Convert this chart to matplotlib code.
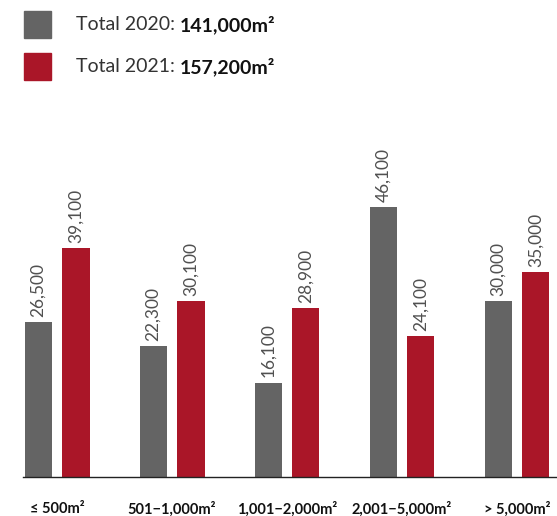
import matplotlib
matplotlib.use("Agg")
import matplotlib.pyplot as plt
import numpy as np
from matplotlib.patches import Rectangle

categories = ["≤ 500m²", "501−1,000m²", "1,001−2,000m²", "2,001−5,000m²", "> 5,000m²"]
values_2020 = [26500, 22300, 16100, 46100, 30000]
values_2021 = [39100, 30100, 28900, 24100, 35000]
legend_labels = ["Total 2020: ", "Total 2021: "]
legend_totals = ["141,000m²", "157,200m²"]

GREY = "#646464"
RED = "#aa1628"
plt.rcParams['font.family'] = ['Lato', 'DejaVu Sans']

W, H = 557, 516
fig = plt.figure(figsize=(W/100, H/100), dpi=100)

ax_top, ax_bot, ax_left, ax_right = 130, 477, 23, 557
ax = fig.add_axes([ax_left/W, 1-ax_bot/H, (ax_right-ax_left)/W, (ax_bot-ax_top)/H])

x = np.arange(len(categories))
off = 0.165
bw = 0.235
ax.bar(x-off, values_2020, bw, color=GREY)
ax.bar(x+off, values_2021, bw, color=RED)
ymax = 46100*(ax_bot-ax_top)/(ax_bot-207)
ax.set_ylim(0, ymax)
ax.set_xlim(-0.296, 4.348)

for xi, v in zip(x-off, values_2020):
    ax.text(xi, v+ymax*0.015, f"{v:,}", rotation=90, ha='center', va='bottom', fontsize=12.5, color="#505050")
for xi, v in zip(x+off, values_2021):
    ax.text(xi, v+ymax*0.015, f"{v:,}", rotation=90, ha='center', va='bottom', fontsize=12.5, color="#505050")

for s in ['top', 'right', 'left']:
    ax.spines[s].set_visible(False)
ax.spines['bottom'].set_color('#222222')
ax.spines['bottom'].set_linewidth(1.0)
ax.set_yticks([])
ax.set_xticks(x)
ax.set_xticklabels(categories, fontsize=10.5, fontweight='bold', color='#111111')
ax.tick_params(axis='x', length=0, pad=18)

# legend
for i, (lab, tot, col) in enumerate(zip(legend_labels, legend_totals, [GREY, RED])):
    y0 = 11 + i*42
    fig.patches.append(Rectangle((24/W, 1-(y0+27)/H), 27/W, 27/H, transform=fig.transFigure, color=col))
    t = fig.text(76/W, 1-(y0+14)/H, lab, fontsize=14, va='center', ha='left', color='#333333')
    fig.canvas.draw()
    bb = t.get_window_extent()
    fig.text(bb.x1/W, 1-(y0+14)/H, tot, fontsize=14, va='center', ha='left', fontweight='bold', color='#111111')

fig.savefig("out.png", dpi=100)
